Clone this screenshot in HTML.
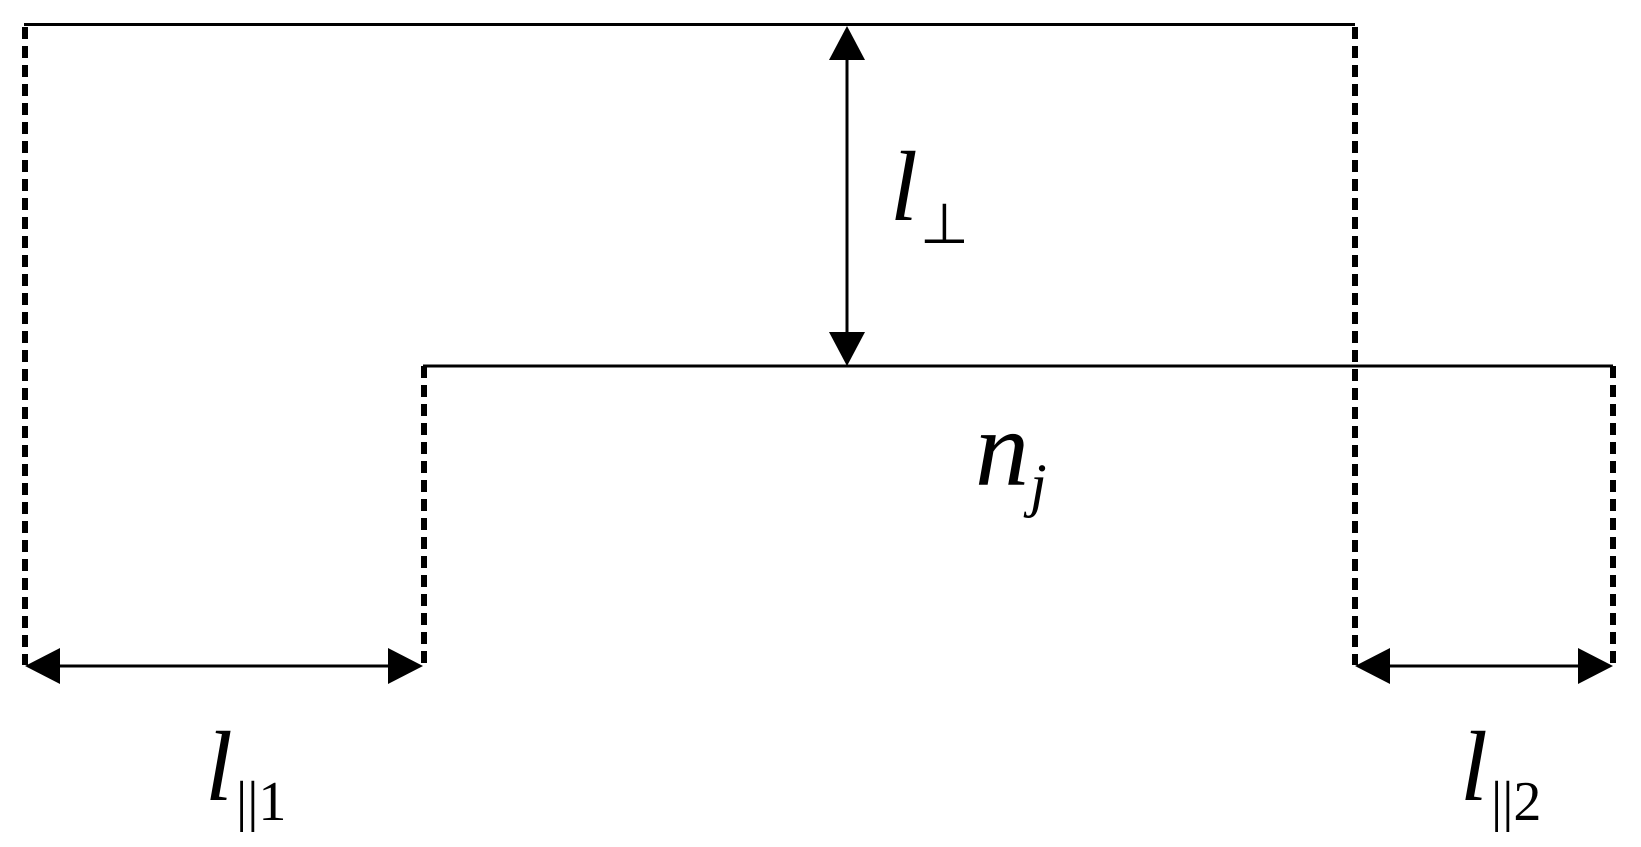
<!DOCTYPE html>
<html><head><style>
html,body{margin:0;padding:0;background:#fff;}
svg{display:block;}
text{font-family:"Liberation Serif",serif;fill:#000;}
</style></head><body>
<svg width="1641" height="847" viewBox="0 0 1641 847" xmlns="http://www.w3.org/2000/svg">
<g stroke="#000" fill="none">
<line x1="24" y1="24.5" x2="1355" y2="24.5" stroke-width="3"/>
<line x1="423" y1="366" x2="1613" y2="366" stroke-width="3"/>
<g stroke-width="6" stroke-dasharray="12,7">
<line x1="25" y1="27" x2="25" y2="665"/>
<line x1="1355" y1="27" x2="1355" y2="665"/>
<line x1="424" y1="366" x2="424" y2="665"/>
<line x1="1613" y1="366" x2="1613" y2="665"/>
</g>
<line x1="847" y1="55" x2="847" y2="335" stroke-width="3"/>
<line x1="55" y1="666" x2="395" y2="666" stroke-width="3"/>
<line x1="1386" y1="666" x2="1583" y2="666" stroke-width="3"/>
</g>
<g fill="#000">
<polygon points="847,26 829,60 865,60"/>
<polygon points="847,366 829,332 865,332"/>
<polygon points="25,666 60,648 60,684"/>
<polygon points="423,666 388,648 388,684"/>
<polygon points="1355,666 1390,648 1390,684"/>
<polygon points="1613,666 1578,648 1578,684"/>
</g>
<text x="890" y="220" font-size="100" font-style="italic">l</text>
<text x="920" y="243" font-size="56">⊥</text>
<text x="975" y="485" font-size="108" font-style="italic">n</text>
<text x="1030" y="505" font-size="60" font-style="italic">j</text>
<text x="205" y="800" font-size="100" font-style="italic">l</text>
<text x="236" y="820" font-size="56">||1</text>
<text x="1460" y="800" font-size="100" font-style="italic">l</text>
<text x="1491" y="820" font-size="56">||2</text>
</svg>
</body></html>
